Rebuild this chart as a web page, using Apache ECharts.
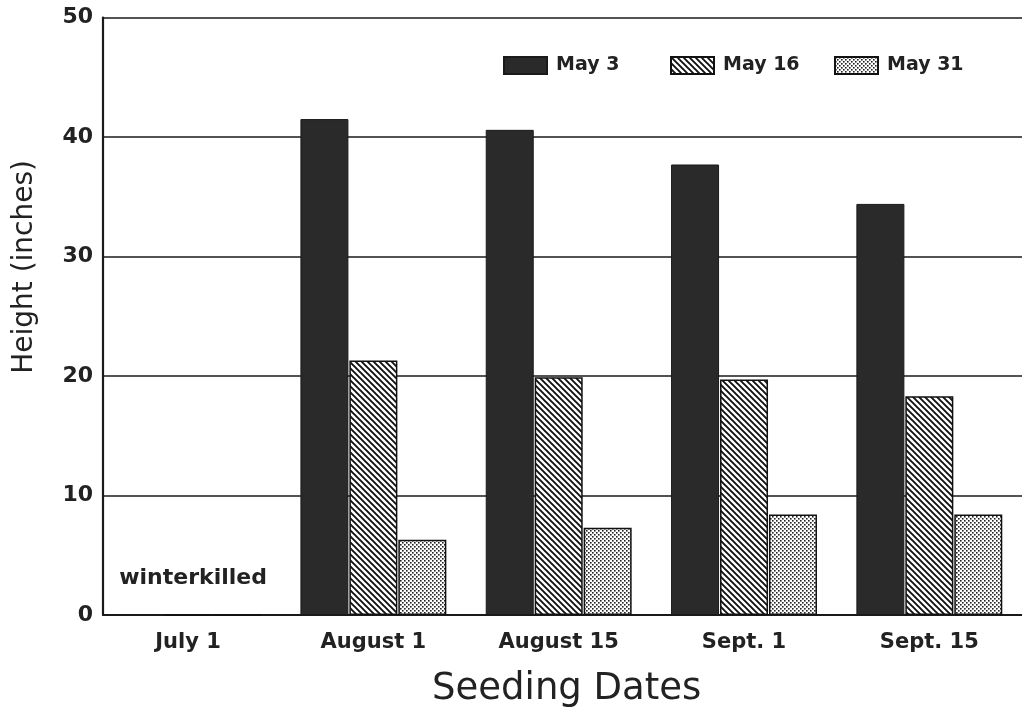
<!DOCTYPE html>
<html>
<head>
<meta charset="utf-8">
<script src="https://cdn.jsdelivr.net/npm/echarts@6/dist/echarts.min.js"></script>
<style>
html,body{margin:0;padding:0;background:#fff;}
#chart{width:1022px;height:713px;}
</style>
</head>
<body>
<div id="chart"></div>
<script>
const categories = ['July 1', 'August 1', 'August 15', 'Sept. 1', 'Sept. 15'];
const seriesNames = ['May 3', 'May 16', 'May 31'];
const may3 = [0, 41.5, 40.6, 37.7, 34.4];
const may16 = [0, 21.3, 19.9, 19.7, 18.3];
const may31 = [0, 6.3, 7.3, 8.4, 8.4];
const yTicks = [0, 10, 20, 30, 40, 50];
const winterNote = 'winterkilled';
const yTitle = 'Height (inches)';
const xTitle = 'Seeding Dates';

function hatchPattern() {
  const c = document.createElement('canvas');
  c.width = 6; c.height = 6;
  const g = c.getContext('2d');
  g.fillStyle = '#fff'; g.fillRect(0, 0, 6, 6);
  g.strokeStyle = '#111'; g.lineWidth = 1.9;
  g.beginPath();
  g.moveTo(-1, -1); g.lineTo(7, 7);
  g.moveTo(-1, 5); g.lineTo(1, 7);
  g.moveTo(5, -1); g.lineTo(7, 1);
  g.stroke();
  return { image: c, repeat: 'repeat' };
}
function dotPattern() {
  const c = document.createElement('canvas');
  c.width = 4; c.height = 4;
  const g = c.getContext('2d');
  g.fillStyle = '#fff'; g.fillRect(0, 0, 4, 4);
  g.fillStyle = '#222';
  g.fillRect(0, 0, 1.6, 1.6);
  g.fillRect(2, 2, 1.6, 1.6);
  return { image: c, repeat: 'repeat' };
}

const FONT = 'DejaVu Sans';
const chart = echarts.init(document.getElementById('chart'), null, { renderer: 'canvas' });

const styles = [
  { color: '#2a2a2a', borderColor: '#1a1a1a', borderWidth: 1 },
  { color: hatchPattern(), borderColor: '#111', borderWidth: 1.5 },
  { color: dotPattern(), borderColor: '#111', borderWidth: 1.5 }
];
const datas = [may3, may16, may31];

const series = seriesNames.map((name, i) => ({
  name: name,
  type: 'bar',
  xAxisIndex: 0,
  yAxisIndex: 0,
  barWidth: 48,
  barGap: '2%',
  itemStyle: styles[i],
  data: datas[i].map((v, j) => {
    if (i === 1 && j === 0) {
      return {
        value: v,
        label: {
          show: true, formatter: winterNote, position: 'top', offset: [5, -20],
          fontFamily: FONT, fontWeight: 'bold', fontSize: 22, color: '#222'
        }
      };
    }
    return v;
  }),
  z: 3
}));

const legendLefts = [503, 670, 834];
const legends = seriesNames.map((n, i) => ({
  data: [{ name: n, icon: 'rect' }],
  left: legendLefts[i],
  top: 56,
  padding: 0,
  itemWidth: 43,
  itemHeight: 17,
  itemGap: 8,
  selectedMode: false,
  textStyle: { fontFamily: FONT, fontWeight: 'bold', fontSize: 19, color: '#222', padding: [3, 0, 0, 4] }
}));

chart.setOption({
  backgroundColor: '#fff',
  animation: false,
  legend: legends,
  grid: [
    { left: 95.4, width: 932, top: 17.5, height: 597.5 },
    { left: 103, right: 0, top: 17.5, height: 597.5 }
  ],
  graphic: [
    {
      type: 'text', left: 11, top: 160, rotation: Math.PI / 2,
      style: { text: yTitle, fontFamily: FONT, fontSize: 28, fill: '#222' }
    }
  ],
  xAxis: [
    {
      type: 'category', gridIndex: 0, data: categories,
      axisLine: { show: false }, axisTick: { show: false },
      axisLabel: { fontFamily: FONT, fontWeight: 'bold', fontSize: 21, color: '#222', margin: 17 },
      name: xTitle, nameLocation: 'middle', nameGap: 56,
      nameTextStyle: { fontFamily: FONT, fontSize: 37, color: '#222', padding: [0, 0, 0, 16] }
    },
    {
      type: 'value', gridIndex: 1, min: 0, max: 1,
      axisLine: { show: true, lineStyle: { color: '#1a1a1a', width: 2.2 } },
      axisTick: { show: false }, axisLabel: { show: false }, splitLine: { show: false }
    }
  ],
  yAxis: [
    { type: 'value', gridIndex: 0, min: 0, max: 50, interval: 10, show: false },
    {
      type: 'value', gridIndex: 1, min: yTicks[0], max: yTicks[yTicks.length - 1], interval: 10,
      axisLine: { show: true, lineStyle: { color: '#1a1a1a', width: 2.2 } },
      axisTick: { show: false },
      axisLabel: { fontFamily: FONT, fontWeight: 'bold', fontSize: 22, color: '#222', margin: 10 },
      splitLine: { show: true, lineStyle: { color: '#1a1a1a', width: 1.6 } }
    }
  ],
  series: series
});
</script>
</body>
</html>
